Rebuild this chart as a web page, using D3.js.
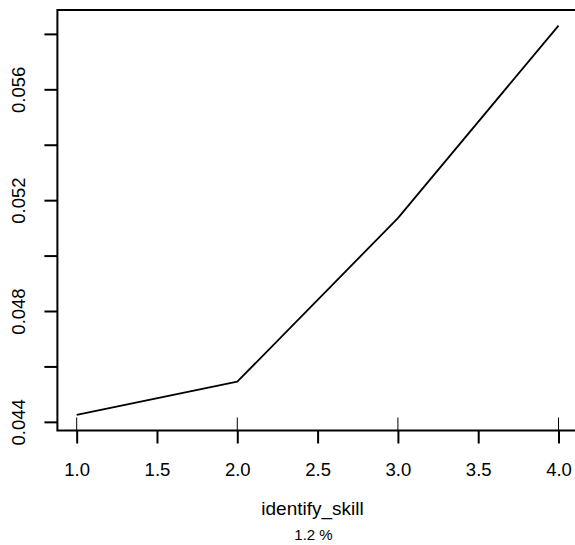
<!DOCTYPE html>
<html>
<head>
<meta charset="utf-8">
<script src="https://cdn.jsdelivr.net/npm/d3@7"></script>
<style>
  html, body { margin: 0; padding: 0; background: #fff; }
  svg { display: block; }
  text { font-family: "Liberation Sans", Arial, Helvetica, sans-serif; fill: #000; }
</style>
</head>
<body>
<svg id="chart" width="575" height="545"></svg>
<script>
// ---- data ----
const xValues = [1, 2, 3, 4];
const yValues = [0.04425, 0.04545, 0.05135, 0.0583];
const rugValues = [1, 2, 3, 4];
const xTickValues = [1.0, 1.5, 2.0, 2.5, 3.0, 3.5, 4.0];
const yTickValues = [0.044, 0.046, 0.048, 0.050, 0.052, 0.054, 0.056, 0.058];
const yLabelValues = [0.044, 0.048, 0.052, 0.056];
const xTitle = "identify_skill";
const subTitle = "1.2 %";

// ---- layout ----
const W = 575, H = 545;
const plot = { left: 57.4, right: 577.8, top: 10, bottom: 430.5 };
const tickLen = 13;

const svg = d3.select("#chart");

// R-style 4% axis extension
function padExtent(vals) {
  const e = d3.extent(vals);
  const p = (e[1] - e[0]) * 0.04;
  return [e[0] - p, e[1] + p];
}

const x = d3.scaleLinear().domain(padExtent(xValues)).range([plot.left, plot.right]);
const y = d3.scaleLinear().domain(padExtent(yValues)).range([plot.bottom, plot.top]);

// line
const line = d3.line().x((d, i) => x(xValues[i])).y(d => y(d));
svg.append("path")
  .datum(yValues)
  .attr("d", line)
  .attr("fill", "none")
  .attr("stroke", "#000")
  .attr("stroke-width", 1.8)
  .attr("stroke-linejoin", "round");

// rug
svg.append("g").selectAll("line").data(rugValues).join("line")
  .attr("x1", d => x(d)).attr("x2", d => x(d))
  .attr("y1", plot.bottom).attr("y2", plot.bottom - tickLen)
  .attr("stroke", "#000").attr("stroke-width", 1);

// x axis
const xAxis = svg.append("g")
  .attr("transform", `translate(0,${plot.bottom})`)
  .call(d3.axisBottom(x).tickValues(xTickValues).tickSize(tickLen).tickFormat(d3.format(".1f")));
xAxis.select(".domain").remove();
xAxis.selectAll(".tick line").attr("stroke", "#000").attr("stroke-width", 2);
xAxis.selectAll(".tick text")
  .attr("y", 45.5).attr("dy", null)
  .style("font-size", "18.5px")
  .style("font-family", "Liberation Sans, Arial, sans-serif");

// y axis
const yAxis = svg.append("g")
  .attr("transform", `translate(${plot.left},0)`)
  .call(d3.axisLeft(y).tickValues(yTickValues).tickSize(tickLen)
    .tickFormat(d => yLabelValues.some(v => Math.abs(v - d) < 1e-9) ? d3.format(".3f")(d) : ""));
yAxis.select(".domain").remove();
yAxis.selectAll(".tick line").attr("stroke", "#000").attr("stroke-width", 2);
yAxis.selectAll(".tick text")
  .attr("x", 0).attr("y", -32.4).attr("dy", null)
  .attr("transform", "rotate(-90)")
  .attr("text-anchor", "middle")
  .style("font-size", "18.5px")
  .style("font-family", "Liberation Sans, Arial, sans-serif");

// box
svg.append("rect")
  .attr("x", plot.left).attr("y", plot.top)
  .attr("width", plot.right - plot.left).attr("height", plot.bottom - plot.top)
  .attr("fill", "none").attr("stroke", "#000").attr("stroke-width", 2);

// titles
svg.append("text")
  .attr("x", 312.5).attr("y", 515)
  .attr("text-anchor", "middle")
  .style("font-size", "19px")
  .text(xTitle);
svg.append("text")
  .attr("x", 313.5).attr("y", 540)
  .attr("text-anchor", "middle")
  .style("font-size", "15px")
  .text(subTitle);
</script>
</body>
</html>
